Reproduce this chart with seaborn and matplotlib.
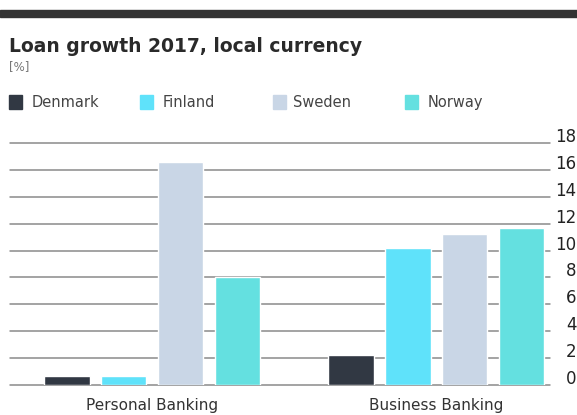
import matplotlib
matplotlib.use("Agg")
import matplotlib.pyplot as plt
import matplotlib.patches as mpatches
import matplotlib.transforms as mtransforms
import seaborn as sns
import pandas as pd

categories = ["Personal Banking", "Business Banking"]
countries = ["Denmark", "Finland", "Sweden", "Norway"]
denmark = [0.7, 2.2]
finland = [0.7, 10.2]
sweden = [16.6, 11.2]
norway = [8.0, 11.7]
yticks = [0, 2, 4, 6, 8, 10, 12, 14, 16, 18]
colors = ["#313843", "#5fe2fa", "#c9d6e6", "#64e0e0"]

rows = []
for name, vals in zip(countries, [denmark, finland, sweden, norway]):
    for c, v in zip(categories, vals):
        rows.append({"Segment": c, "Country": name, "Growth": v})
df = pd.DataFrame(rows)

sns.set_style("white")
plt.rcParams["font.family"] = ["DejaVu Sans"]

W, H = 577, 415
fig = plt.figure(figsize=(W / 100, H / 100), dpi=100)
ax = fig.add_axes([10 / W, 1 - 385 / H, 540 / W, (385 - 143) / H])

sns.barplot(data=df, x="Segment", y="Growth", hue="Country", order=categories,
            hue_order=countries, palette=colors, width=0.8, gap=0.2,
            saturation=1, ax=ax, legend=False, zorder=3)

ax.set_xlim(-0.5, 1.4)
ax.set_ylim(0, 18)
ax.set_yticks(yticks)
ax.set_yticklabels([str(t) for t in yticks])
ax.yaxis.tick_right()
ax.grid(axis="y", color="#8a8a8a", linewidth=1.1, zorder=0)
for gl in ax.get_ygridlines():
    gl.set_clip_on(False)
ax.set_axisbelow(True)
for s in ax.spines.values():
    s.set_visible(False)
ax.set_xlabel("")
ax.set_ylabel("")
ax.tick_params(axis="y", length=0, pad=19, labelsize=12, labelcolor="#222222")
ax.tick_params(axis="x", length=0, pad=9, labelsize=11, labelcolor="#333333")
for lab in ax.get_yticklabels():
    lab.set_horizontalalignment("right")
    lab.set_transform(lab.get_transform() + mtransforms.ScaledTranslation(0, 8 / 100, fig.dpi_scale_trans))

# top dark band
fig.patches.append(mpatches.Rectangle((0, 1 - 17 / H), 1, 7 / H, transform=fig.transFigure,
                                      color="#333333", zorder=5))

fig.text(9 / W, 1 - 46 / H, "Loan growth 2017, local currency", fontsize=13.5,
         fontweight="bold", color="#2a2a2a", va="center", ha="left")
fig.text(9 / W, 1 - 67 / H, "[%]", fontsize=8.5, color="#777777", va="center", ha="left")

# legend entries
patch_x = [9, 140, 273, 405]
text_x = [32, 163, 293, 428]
for name, c, px, tx in zip(countries, colors, patch_x, text_x):
    fig.patches.append(mpatches.Rectangle((px / W, 1 - 109 / H), 13 / W, 14 / H,
                                          transform=fig.transFigure, color=c))
    fig.text(tx / W, 1 - 102 / H, name, fontsize=10.5, color="#444444",
             va="center", ha="left")

fig.savefig("out.png", dpi=100)
